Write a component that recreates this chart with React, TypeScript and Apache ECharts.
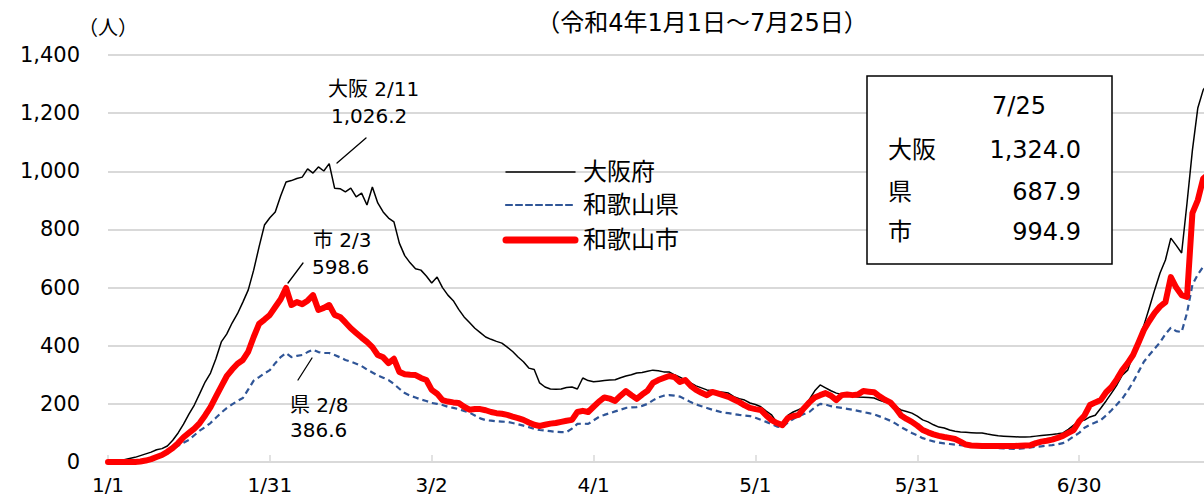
import React, { useEffect, useRef } from "react";
import * as echarts from "echarts";

const FONT = '"DejaVu Sans", "Noto Sans CJK JP", sans-serif';

const seriesNames = ["大阪府", "和歌山県", "和歌山市"];
const seriesColors = ["#000000", "#2f5597", "#ff0000"];
const tickLabels = ["1/1", "1/31", "3/2", "4/1", "5/1", "5/31", "6/30"];
const yTicks = [0, 200, 400, 600, 800, 1000, 1200, 1400];

// 7-day values, 1/1 .. 7/25
const osaka = [
  0, 2, 4, 8, 12, 16, 22, 28, 34, 42,
  46, 55, 75, 100, 130, 165, 196, 235, 275, 306,
  355, 413, 440, 478, 510, 550, 592, 660, 740, 815,
  840, 860, 915, 963, 968, 975, 980, 1008, 994, 1015,
  1001, 1026.2, 942, 940, 929, 942, 912, 925, 884, 946,
  891, 860, 839, 826, 753, 710, 685, 665, 660, 640,
  616, 636, 600, 574, 555, 525, 499, 480, 460, 445,
  430, 422, 415, 409, 395, 380, 361, 345, 323, 318,
  272, 258, 251, 250, 251, 256, 258, 251, 289, 280,
  276, 278, 280, 282, 283, 290, 296, 300, 306, 308,
  312, 316, 314, 310, 310, 300, 292, 282, 272, 262,
  255, 248, 245, 242, 240, 237, 225, 218, 213, 203,
  198, 190, 175, 162, 135, 124, 160, 172, 180, 189,
  215, 245, 265, 255, 245, 237, 232, 228, 226, 224,
  223, 222, 220, 212, 206, 203, 190, 179, 174, 168,
  158, 145, 138, 128, 120, 117, 110, 106, 103, 102,
  101, 100, 100, 96, 93, 90, 89, 88, 87, 86,
  86, 87, 89, 91, 93, 95, 97, 100, 112, 127,
  140, 144, 155, 161, 185, 210, 237, 265, 299, 316,
  370, 420, 470, 530, 592, 650, 695, 770, 745, 719,
  891, 1073, 1218, 1280, 1305, 1324.0,
];

const wakayamaPref = [
  0, 0, 0, 0, 0, 0, 0, 3, 8, 14,
  22, 32, 44, 56, 66, 76, 92, 108, 120, 134,
  152, 170, 185, 198, 210, 220, 250, 280, 292, 305,
  316, 340, 361, 375, 361, 365, 368, 378, 386.6, 378,
  375, 375, 368, 360, 351, 345, 338, 330, 318, 308,
  298, 290, 282, 268, 252, 237, 228, 222, 215, 210,
  203, 200, 196, 190, 186, 182, 176, 170, 160, 150,
  144, 142, 140, 139, 138, 134, 130, 125, 120, 114,
  110, 108, 106, 104, 103, 103, 115, 131, 132, 131,
  143, 155, 162, 168, 174, 180, 186, 188, 189, 193,
  200, 212, 222, 228, 230, 228, 225, 216, 206, 198,
  192, 186, 180, 175, 170, 168, 165, 162, 160, 158,
  152, 145, 138, 130, 122, 120, 135, 148, 158, 165,
  172, 188, 200, 198, 192, 189, 186, 183, 180, 176,
  172, 168, 164, 157, 150, 142, 132, 120, 110, 100,
  92, 82, 76, 71, 67, 64, 62, 60, 58, 56,
  55, 54, 53, 52, 50, 48, 47, 46, 45, 46,
  48, 50, 52, 54, 56, 58, 61, 65, 75, 88,
  100, 118, 128, 136, 144, 160, 178, 198, 218, 245,
  275, 310, 345, 368, 390, 412, 440, 462, 450, 447,
  513, 610, 645, 672, 684, 687.9,
];

const wakayamaCity = [
  0, 0, 0, 0, 0, 0, 2, 5, 10, 17,
  24, 35, 48, 65, 85, 100, 115, 134, 160, 189,
  225, 260, 295, 318, 338, 351, 380, 430, 475, 490,
  506, 533, 560, 598.6, 540, 550, 543, 555, 574, 523,
  530, 540, 506, 499, 480, 460, 444, 428, 413, 395,
  368, 360, 340, 355, 310, 302, 300, 299, 289, 282,
  248, 235, 213, 208, 205, 203, 190, 180, 182, 182,
  178, 172, 168, 166, 162, 156, 151, 145, 136, 128,
  124, 128, 132, 134, 138, 142, 145, 172, 176, 172,
  190, 208, 222, 218, 210, 228, 244, 230, 217, 232,
  245, 272, 282, 289, 296, 292, 275, 282, 262, 248,
  238, 230, 241, 236, 230, 224, 215, 206, 195, 186,
  182, 179, 160, 144, 134, 127, 151, 158, 162, 185,
  205, 222, 230, 237, 228, 213, 230, 232, 230, 232,
  244, 242, 240, 226, 214, 205, 185, 160, 148, 138,
  125, 110, 102, 95, 90, 86, 83, 79, 70, 60,
  57, 56, 55, 55, 55, 55, 55, 55, 55, 56,
  57, 58, 65, 70, 73, 77, 83, 90, 100, 110,
  140, 160, 196, 205, 213, 240, 258, 285, 316, 340,
  368, 410, 454, 485, 513, 535, 550, 636, 600, 574,
  568, 856, 901, 975, 990, 994.9,
];

const latest = { date: "7/25", osaka: "1,324.0", pref: "687.9", city: "994.9" };

function buildDates(n: number): string[] {
  const out: string[] = [];
  const start = new Date(2022, 0, 1);
  for (let i = 0; i < n; i++) {
    const d = new Date(start.getTime());
    d.setDate(start.getDate() + i);
    out.push(`${d.getMonth() + 1}/${d.getDate()}`);
  }
  return out;
}

export default function App() {
  const ref = useRef<HTMLDivElement>(null);
  useEffect(() => {
    if (!ref.current) return;
    const chart = echarts.init(ref.current, null, { renderer: "svg" });
    const dates = buildDates(osaka.length);
    const showIdx = (i: number) => tickLabels.includes(dates[i]);
    const txt = (x: number, y: number, text: string, size = 19, align = "left") => ({
      type: "text",
      x,
      y,
      z: 100,
      style: {
        text,
        fill: "#000",
        font: `${size}px ${FONT}`,
        textAlign: align,
        textVerticalAlign: "middle",
      },
    });
    const ln = (x1: number, y1: number, x2: number, y2: number, stroke = "#000", lineWidth = 1.3, lineDash?: number[]) => ({
      type: "line",
      z: 100,
      shape: { x1, y1, x2, y2 },
      style: { stroke, lineWidth, lineDash, lineCap: "round" },
    });
    const legendY = [172, 205, 240];
    const legendW = [1.5, 2.2, 7];
    const legendGraphics: any[] = [];
    seriesNames.forEach((name, i) => {
      legendGraphics.push(
        ln(506, legendY[i], 575, legendY[i], seriesColors[i], legendW[i], i === 1 ? [6, 4] : undefined)
      );
      legendGraphics.push(txt(583, legendY[i], name, 24));
    });
    chart.setOption({
      animation: false,
      backgroundColor: "#fff",
      textStyle: { fontFamily: FONT },
      grid: { left: 108, right: 0, top: 55, bottom: 35, containLabel: false },
      xAxis: {
        type: "category",
        data: dates,
        boundaryGap: false,
        axisLine: { lineStyle: { color: "#d9d9d9", width: 2 } },
        axisTick: {
          show: true,
          inside: true,
          length: 7,
          interval: (i: number) => showIdx(i),
          lineStyle: { color: "#d9d9d9", width: 1.5 },
        },
        axisLabel: {
          interval: (i: number) => showIdx(i),
          fontSize: 20,
          color: "#000",
          margin: 13,
          fontFamily: FONT,
        },
        splitLine: { show: false },
      },
      yAxis: {
        type: "value",
        min: yTicks[0],
        max: yTicks[yTicks.length - 1],
        interval: 200,
        axisLine: { show: false },
        axisTick: { show: false },
        axisLabel: {
          fontSize: 21,
          color: "#000",
          margin: 28,
          fontFamily: FONT,
          formatter: (v: number) => v.toLocaleString("en-US"),
        },
        splitLine: { lineStyle: { color: "#d9d9d9", width: 1.8 } },
      },
      series: [
        {
          name: seriesNames[0],
          type: "line",
          data: osaka,
          symbol: "none",
          lineStyle: { color: seriesColors[0], width: 1.5 },
          z: 3,
        },
        {
          name: seriesNames[1],
          type: "line",
          data: wakayamaPref,
          symbol: "none",
          lineStyle: { color: seriesColors[1], width: 2.2, type: [6, 4] },
          z: 2,
        },
        {
          name: seriesNames[2],
          type: "line",
          data: wakayamaCity,
          symbol: "none",
          lineStyle: { color: seriesColors[2], width: 6, cap: "round", join: "round" },
          z: 4,
        },
      ],
      graphic: [
        txt(702, 23, "（令和4年1月1日～7月25日）", 24, "center"),
        txt(78, 28, "（人）", 20, "left"),
        txt(328, 89, "大阪 2/11", 20),
        txt(331, 116, "1,026.2", 20),
        ln(337, 163, 366, 138),
        txt(313, 240, "市 2/3", 20),
        txt(312, 267, "598.6", 20),
        ln(288, 283, 303, 263),
        txt(290, 405, "県 2/8", 20),
        txt(290, 430, "386.6", 20),
        ln(298, 380, 312, 358),
        ...legendGraphics,
        {
          type: "rect",
          z: 90,
          shape: { x: 867, y: 76, width: 245, height: 188 },
          style: { fill: "#fff", stroke: "#000", lineWidth: 1.5 },
        },
        txt(1019, 106, latest.date, 24, "center"),
        txt(888, 150, "大阪", 24),
        txt(1081, 150, latest.osaka, 24, "right"),
        txt(888, 192, "県", 24),
        txt(1081, 192, latest.pref, 24, "right"),
        txt(888, 232, "市", 24),
        txt(1081, 232, latest.city, 24, "right"),
      ],
    });
    return () => chart.dispose();
  }, []);
  return (
    <div
      style={{ position: "fixed", left: 0, top: 0, width: 1204, height: 497, overflow: "hidden", background: "#fff" }}
    >
      <div ref={ref} style={{ width: 1214, height: 497 }} />
    </div>
  );
}
